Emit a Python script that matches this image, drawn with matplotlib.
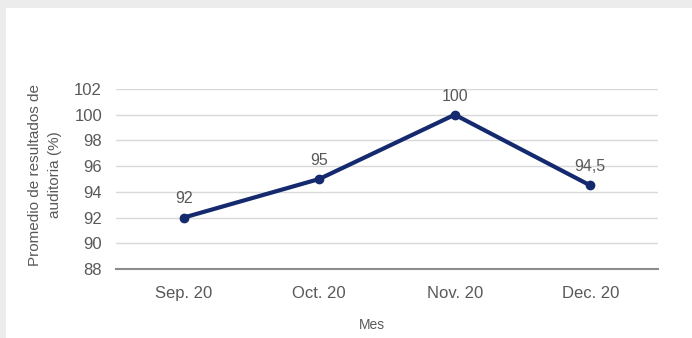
import matplotlib.pyplot as plt

plt.rcParams["font.family"] = ["Liberation Sans", "DejaVu Sans"]

months = ["Sep. 20", "Oct. 20", "Nov. 20", "Dec. 20"]
scores = [92, 95, 100, 94.5]
score_labels = ["92", "95", "100", "94,5"]
y_ticks = [88, 90, 92, 94, 96, 98, 100, 102]

W, H = 692, 338
fig = plt.figure(figsize=(W / 100, H / 100), dpi=100, facecolor="#ececec")
# white panel inside the gray border
panel = plt.Rectangle((6 / W, 0), 1, 1 - 8 / H, transform=fig.transFigure,
                      facecolor="white", edgecolor="none", zorder=-10)
fig.add_artist(panel)

left, right, top, bottom = 116, 658, 89, 269
ax = fig.add_axes([left / W, 1 - bottom / H, (right - left) / W, (bottom - top) / H])
ax.set_facecolor("white")

x = list(range(len(months)))
ax.plot(x, scores, color="#14296e", linewidth=3, marker="o", markersize=6,
        zorder=3)
for xi, yi, lab in zip(x, scores, score_labels):
    ax.annotate(lab, (xi, yi), xytext=(0, 8), textcoords="offset points",
                ha="center", va="bottom", fontsize=11.5, color="#595959")

ax.set_xlim(-0.5, len(months) - 0.5)
ax.set_ylim(88, 102)
ax.set_xticks(x)
ax.set_xticklabels(months, fontsize=12, color="#595959")
ax.set_yticks(y_ticks)
ax.set_yticklabels([str(v) for v in y_ticks], fontsize=12, color="#595959")
ax.tick_params(length=0, pad=10)
ax.tick_params(axis="x", pad=12)

ax.grid(axis="y", color="#d9d9d9", linewidth=1)
ax.set_axisbelow(True)
for side in ["top", "right", "left"]:
    ax.spines[side].set_visible(False)
ax.spines["bottom"].set_color("#8c8c8c")
ax.spines["bottom"].set_linewidth(1.5)

ax.set_xlabel("Mes", fontsize=10, color="#595959")
ax.xaxis.set_label_coords((372 - left) / (right - left), (bottom - 325) / (bottom - top))
ax.xaxis.label.set_va("center")
ax.set_ylabel("Promedio de resultados de\nauditoria (%)", fontsize=11,
              color="#595959", linespacing=1.6, va="center")
ax.yaxis.set_label_coords((45 - left) / (right - left), (bottom - 175) / (bottom - top))

fig.savefig("out.png", dpi=100, facecolor=fig.get_facecolor())
